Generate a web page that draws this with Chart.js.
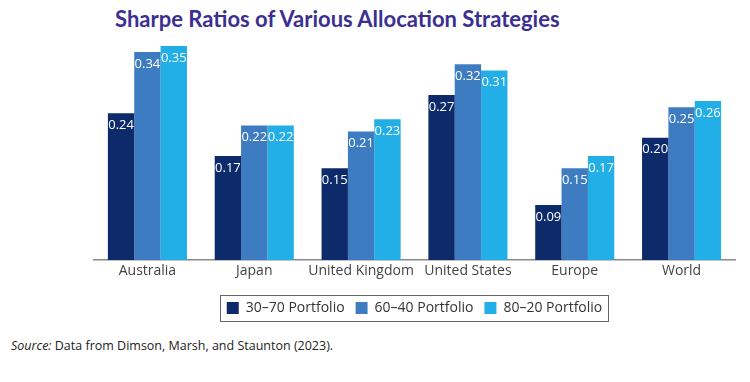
<!DOCTYPE html>
<html>
<head>
<meta charset="utf-8">
<script src="https://cdn.jsdelivr.net/npm/chart.js@4"></script>
<style>
  body { margin: 0; background: #fff; width: 750px; height: 382px; position: relative; overflow: hidden; }
  #title { position: absolute; left: 115px; top: 5px; font: bold 22px Lato, sans-serif; color: #3b2f8f; white-space: nowrap; }
  #wrap { position: absolute; left: 0; top: 0; width: 750px; height: 330px; }
  #source { position: absolute; left: 11px; top: 337px; font: 12.5px "Open Sans", sans-serif; color: #222; white-space: nowrap; }
</style>
</head>
<body>
<div id="title">Sharpe Ratios of Various Allocation Strategies</div>
<div id="wrap"><canvas id="canvas"></canvas></div>
<div id="source"><i>Source:</i> Data from Dimson, Marsh, and Staunton (2023).</div>
<script>
var regions = ['Australia', 'Japan', 'United Kingdom', 'United States', 'Europe', 'World'];
var seriesNames = ['30–70 Portfolio', '60–40 Portfolio', '80–20 Portfolio'];
var p3070 = [0.24, 0.17, 0.15, 0.27, 0.09, 0.20];
var p6040 = [0.34, 0.22, 0.21, 0.32, 0.15, 0.25];
var p8020 = [0.35, 0.22, 0.23, 0.31, 0.17, 0.26];
var colors = ['#0d2a6b', '#3e7cc1', '#22aee6'];

// white value labels at the top of each bar
var valueLabels = {
  id: 'valueLabels',
  afterDatasetsDraw: function(chart) {
    var ctx = chart.ctx;
    ctx.save();
    ctx.fillStyle = '#fff';
    ctx.font = '13px "Open Sans", sans-serif';
    ctx.textAlign = 'center';
    ctx.textBaseline = 'middle';
    chart.data.datasets.forEach(function(ds, i) {
      chart.getDatasetMeta(i).data.forEach(function(bar, j) {
        ctx.fillText(ds.data[j].toFixed(2), bar.x, bar.y + 12);
      });
    });
    ctx.restore();
  }
};

// thin border box round the legend
var legendBox = {
  id: 'legendBox',
  afterDraw: function(chart) {
    var boxes = chart.legend.legendHitBoxes;
    if (!boxes || !boxes.length) return;
    var first = boxes[0], last = boxes[boxes.length - 1];
    var ctx = chart.ctx;
    ctx.save();
    ctx.strokeStyle = '#666';
    ctx.lineWidth = 1;
    ctx.strokeRect(Math.round(first.left - 7) + 0.5, Math.round(first.top - 6) + 0.5,
      Math.round(last.left + last.width - first.left + 12), 26);
    ctx.restore();
  }
};

var ctx = document.getElementById('canvas').getContext('2d');
var config = {
  type: 'bar',
  data: {
    labels: regions,
    datasets: [
      { label: seriesNames[0], data: p3070, backgroundColor: colors[0] },
      { label: seriesNames[1], data: p6040, backgroundColor: colors[1] },
      { label: seriesNames[2], data: p8020, backgroundColor: colors[2] }
    ]
  },
  options: {
    responsive: true,
    maintainAspectRatio: false,
    animation: false,
    datasets: { bar: { categoryPercentage: 0.74, barPercentage: 1.0 } },
    layout: { padding: { top: 46, left: 94, right: 15, bottom: 5 } },
    scales: {
      y: { display: false, min: 0, max: 0.35 },
      x: {
        grid: { display: false, drawTicks: false },
        border: { display: true, color: '#888', width: 1.5 },
        ticks: {
          color: '#444', font: { family: 'Open Sans', size: 14 }, padding: 3,
          maxRotation: 0, minRotation: 0, autoSkip: false
        },
        afterFit: function(scale) { scale.height = 30; }
      }
    },
    plugins: {
      tooltip: { enabled: false },
      legend: {
        position: 'bottom',
        labels: {
          boxWidth: 12, boxHeight: 12, padding: 11,
          color: '#333', font: { family: 'Open Sans', size: 14 }
        }
      }
    }
  },
  plugins: [valueLabels, legendBox]
};
var chart = new Chart(ctx, config);
</script>
</body>
</html>
